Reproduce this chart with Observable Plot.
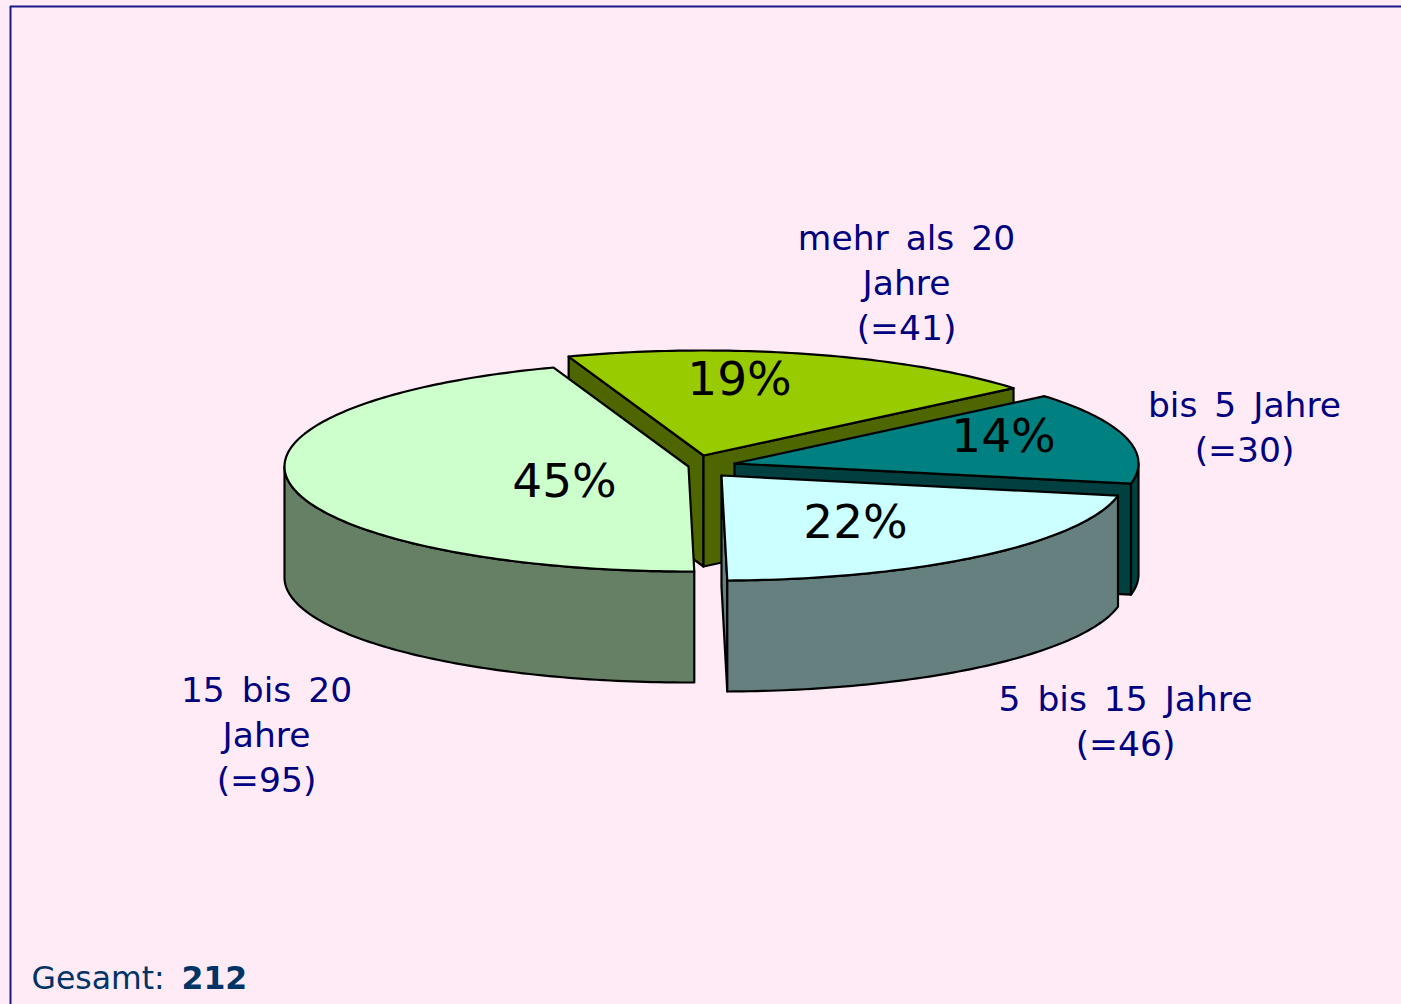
<!DOCTYPE html>
<html lang="de">
<head>
<meta charset="utf-8">
<title>Gesamt 212</title>
<script src="https://cdn.jsdelivr.net/npm/d3@7"></script>
<script src="https://cdn.jsdelivr.net/npm/@observablehq/plot@0.6"></script>
<style>
  html, body { margin: 0; padding: 0; background: #FFEBF5; overflow: hidden; }
  svg { display: block; }
</style>
</head>
<body>
<div id="chart"></div>
<script>
// Data, clockwise from the "mehr als 20 Jahre" slice
const categories = ["mehr als 20 Jahre", "bis 5 Jahre", "5 bis 15 Jahre", "15 bis 20 Jahre"];
const counts = [41, 30, 46, 95];
const percentLabels = ["19%", "14%", "22%", "45%"];
const categoryLabels = ["mehr als 20\nJahre", "bis 5 Jahre", "5 bis 15 Jahre", "15 bis 20\nJahre"];
const totalLabel = "Gesamt:";
const totalValue = 212;

// Styles and layout of the exploded 3D pie
const topColors = ["#99CC00", "#008080", "#CCFFFF", "#CCFFCC"];
const sideColors = ["#4D6600", "#004040", "#668080", "#668066"];
const centersX = [703, 734, 721, 688];
const centersY = [455, 463, 475, 466];
const percentX = [739, 1003, 855, 564];
const percentY = [379, 436, 522, 481];
const labelX = [906, 1244, 1125, 266];
const labelY = [280, 425, 719, 732];
const radiusX = 404, radiusY = 105, depth = 111, startDeg = -109.5;
const paintOrder = [0, 1, 3, 2]; // back to front

// Turn the values into slice faces
const total = d3.sum(counts);
let running = startDeg;
const spans = counts.map(c => {
  const a0 = running;
  running += c / total * 360;
  return [a0, running];
});
const faces = [];
for (const i of paintOrder) {
  const [a0, a1] = spans[i];
  const cx = centersX[i], cy = centersY[i];
  const at = (deg, dz = 0) => {
    const t = deg * Math.PI / 180;
    return {x: cx + radiusX * Math.cos(t), y: cy + radiusY * Math.sin(t) + dz};
  };
  const sweep = (from, to) => {
    const out = [];
    for (let a = from; a < to; a += 1) out.push(a);
    out.push(to);
    return out;
  };
  const add = (id, fill, pts) => pts.forEach(p => faces.push({id: `${categories[i]}-${id}`, fill, x: p.x, y: p.y}));
  const apex = {x: cx, y: cy}, apexLow = {x: cx, y: cy + depth};
  const cos = d => Math.cos(d * Math.PI / 180);
  // Only the radial walls that face the viewer
  if (cos(a0) < 0) add("start", sideColors[i], [apex, at(a0), at(a0, depth), apexLow]);
  if (cos(a1) > 0) add("end", sideColors[i], [apex, at(a1), at(a1, depth), apexLow]);
  // Only the front half of the outer wall
  const rimFrom = Math.max(a0, 0), rimTo = Math.min(a1, 180);
  if (rimTo > rimFrom) {
    const rim = sweep(rimFrom, rimTo);
    add("rim", sideColors[i], [...rim.map(a => at(a)), ...rim.slice().reverse().map(a => at(a, depth))]);
  }
  add("top", topColors[i], [apex, ...sweep(a0, a1).map(a => at(a))]);
}

const percentRows = percentLabels.map((text, i) => ({text, x: percentX[i], y: percentY[i]}));
const labelRows = categoryLabels.map((name, i) => ({text: `${name}\n(=${counts[i]})`, x: labelX[i], y: labelY[i]}));

const chart = Plot.plot({
  width: 1401,
  height: 1004,
  margin: 0,
  x: {domain: [0, 1401], range: [0, 1401], axis: null},
  y: {domain: [0, 1004], range: [0, 1004], axis: null},
  style: {background: "#FFEBF5", fontFamily: "'DejaVu Sans', Verdana, sans-serif", wordSpacing: "6px"},
  marks: [
    Plot.ruleY([6], {x1: 10, x2: 1401, stroke: "#1A1A8C", strokeWidth: 2}),
    Plot.ruleX([10], {y1: 6, y2: 1004, stroke: "#1A1A8C", strokeWidth: 2}),
    Plot.line(faces, {
      x: "x", y: "y", z: "id", fill: "fill",
      stroke: "#000", strokeWidth: 2.2, curve: "linear-closed", strokeLinejoin: "round"
    }),
    Plot.text(percentRows, {x: "x", y: "y", text: "text", fontSize: 47, fill: "#000"}),
    Plot.text(labelRows, {x: "x", y: "y", text: "text", fontSize: 34.5, lineHeight: 1.3, fill: "#000080"}),
    Plot.text([totalLabel], {x: 31, y: 978, text: d => d, textAnchor: "start", fontSize: 31.5, fill: "#003366"}),
    Plot.text([totalValue], {x: 181, y: 978, text: d => String(d), textAnchor: "start", fontSize: 31.5, fontWeight: "bold", fill: "#003366"})
  ]
});
document.getElementById("chart").append(chart);
</script>
</body>
</html>
